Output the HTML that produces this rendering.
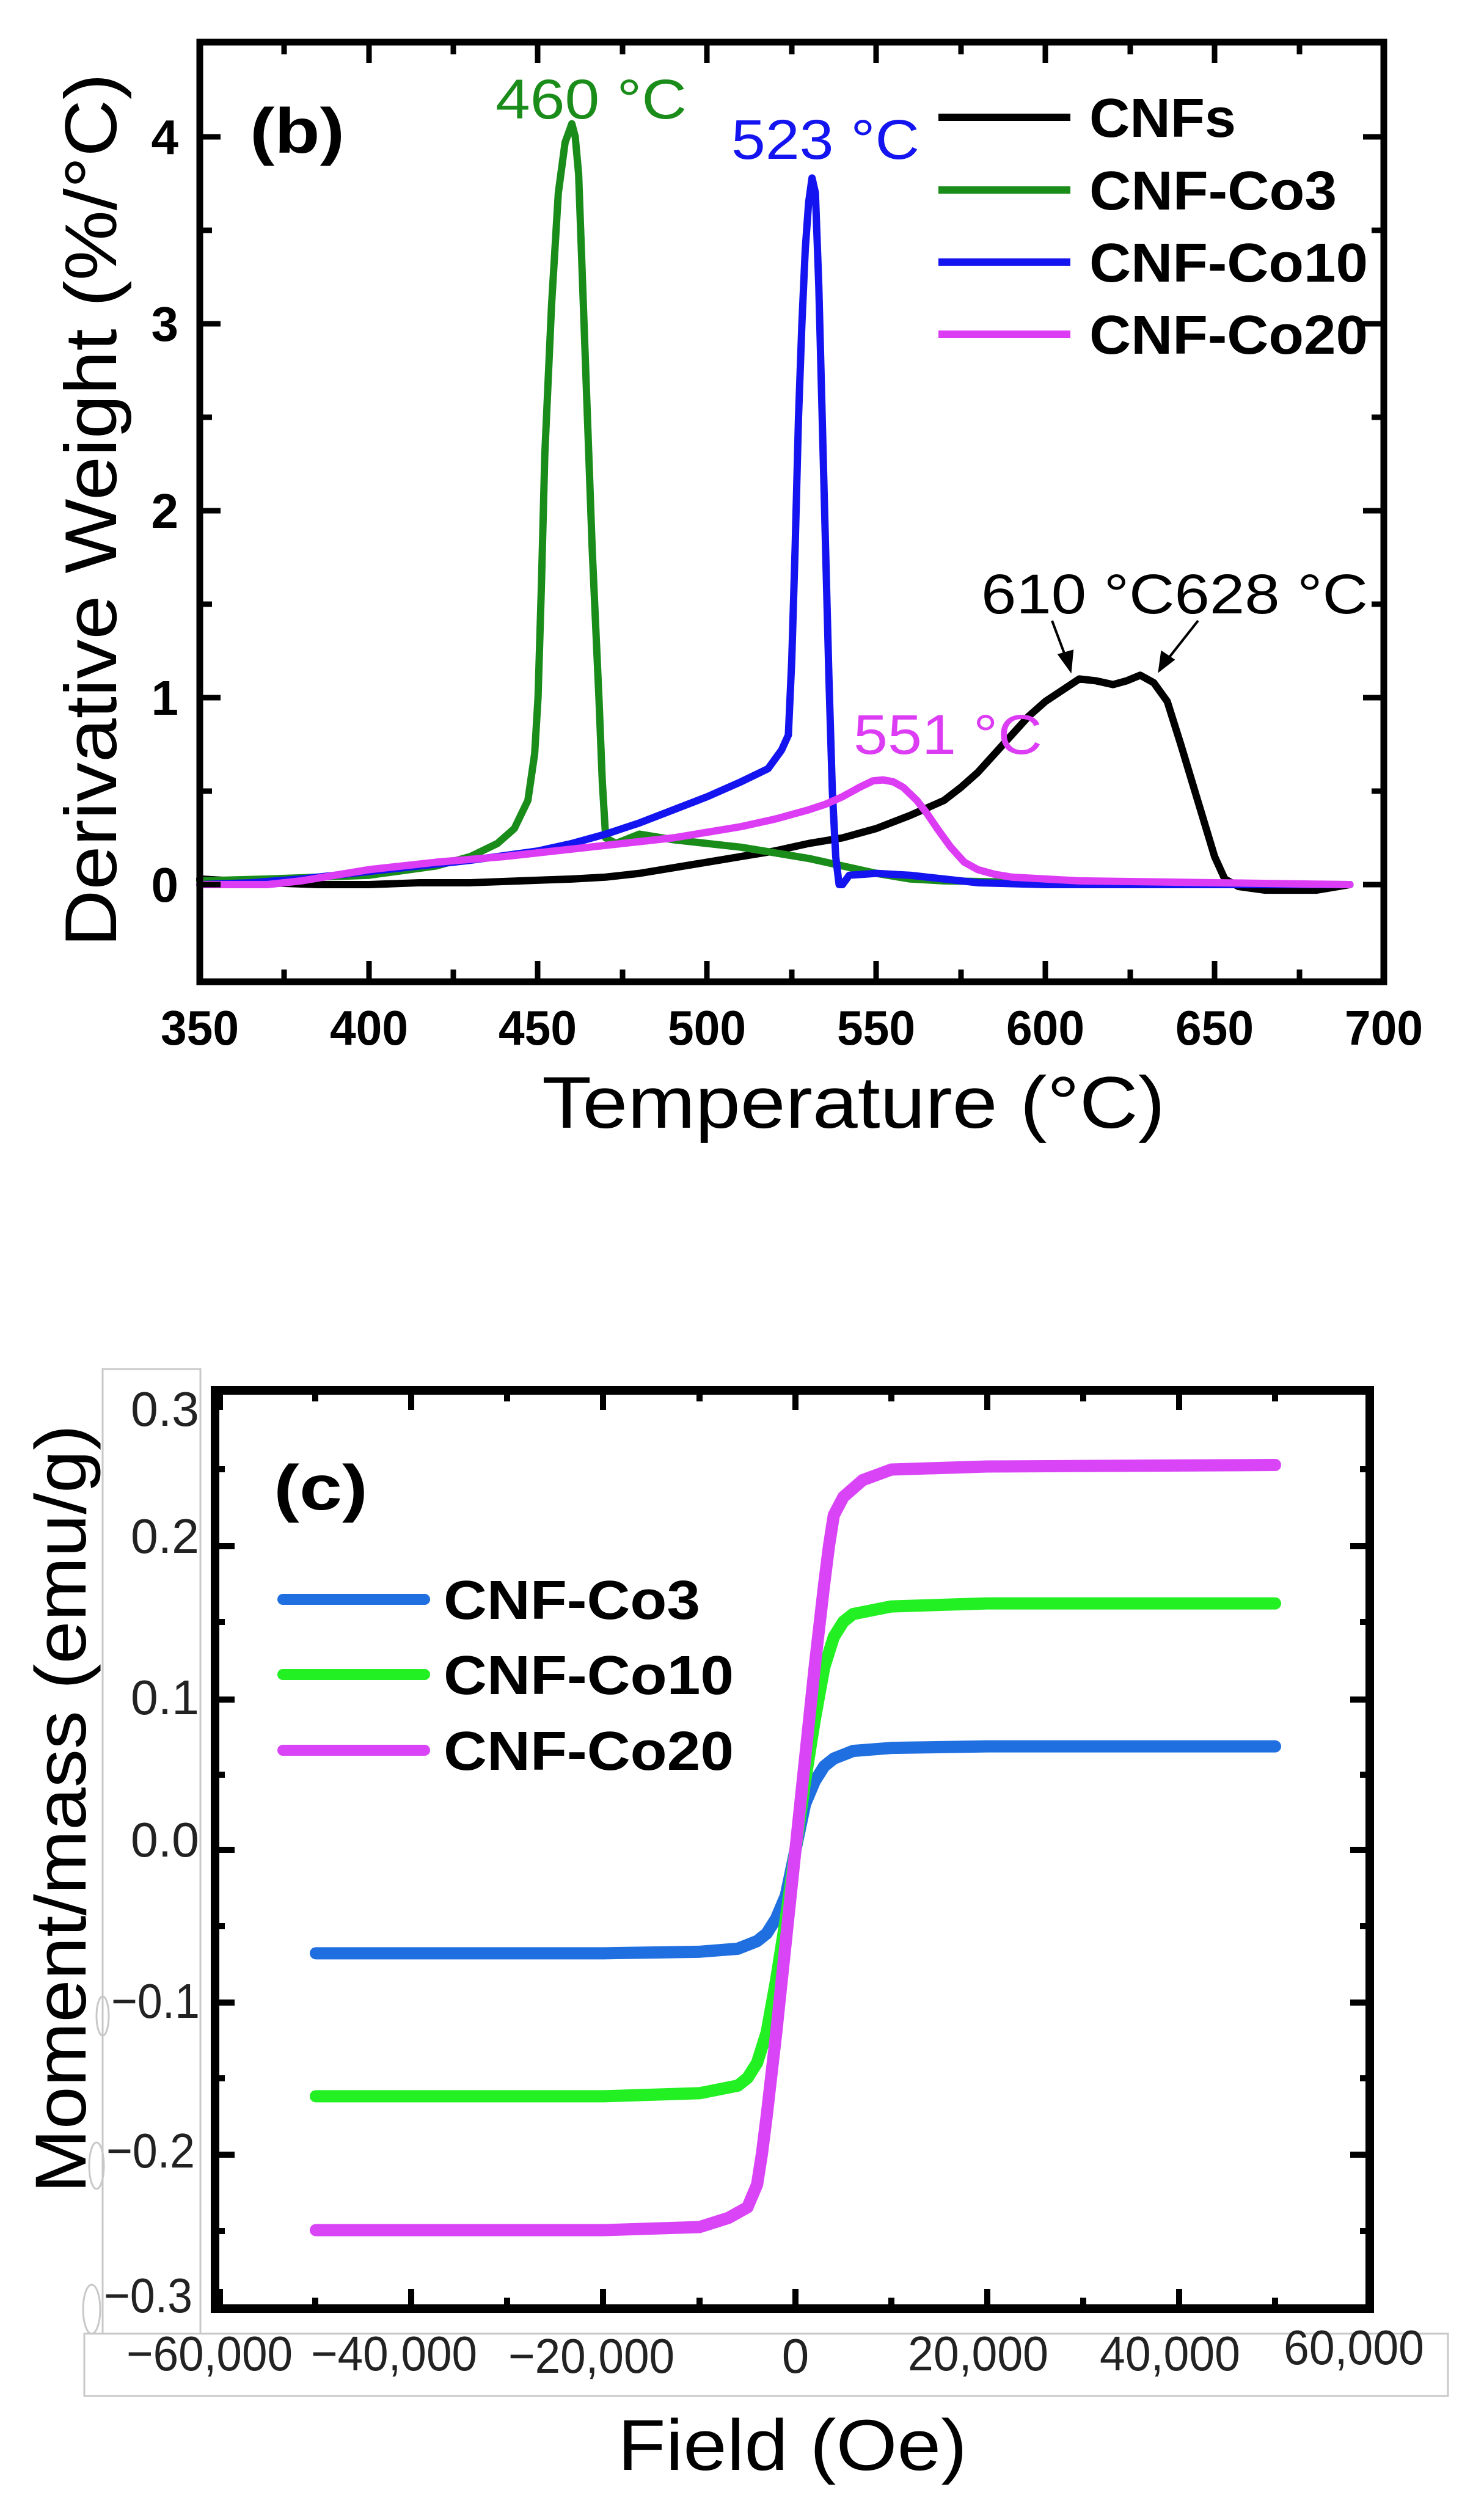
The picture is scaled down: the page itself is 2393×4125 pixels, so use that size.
<!DOCTYPE html>
<html><head><meta charset="utf-8"><style>
html,body{margin:0;padding:0;background:#fff;}
svg{display:block;}
text{font-family:"Liberation Sans",Arial,sans-serif;}
</style></head><body>
<svg width="2393" height="4125" viewBox="0 0 2393 4125" xmlns="http://www.w3.org/2000/svg">
<rect width="2393" height="4125" fill="#fff"/>

<!-- ============ Panel (b) ============ -->
<g fill="none" stroke-linejoin="round" stroke-linecap="round" transform="matrix(5.537 0 0 -306 -1611 1448)">
  <polyline vector-effect="non-scaling-stroke" stroke="#000" stroke-width="12" points="350,0.03 360,0.02 370,0.01 385,0.0 400,0.0 415,0.01 430,0.01 445,0.02 460,0.03 470,0.04 480,0.06 490,0.09 500,0.12 510,0.15 520,0.18 530,0.22 540,0.25 550,0.3 560,0.37 570,0.45 575,0.52 580,0.6 585,0.7 590,0.8 595,0.9 600,0.98 605,1.04 610,1.1 615,1.09 620,1.07 624,1.09 628,1.12 632,1.08 636,0.98 640,0.75 645,0.45 650,0.15 653,0.03 657,-0.01 665,-0.03 680,-0.03 690,0.0"/>
  <polyline vector-effect="non-scaling-stroke" stroke="#1a8c1a" stroke-width="12" points="350,0.02 370,0.03 400,0.05 420,0.1 430,0.15 438,0.22 443,0.3 447,0.45 449,0.7 450,1.0 451,1.6 452,2.3 454,3.1 456,3.7 458,3.97 460,4.07 461,4.0 462,3.8 463,3.3 464,2.8 466,1.8 468,1.0 469,0.55 470,0.25 473,0.22 480,0.27 490,0.24 500,0.22 510,0.2 520,0.17 530,0.14 540,0.1 550,0.06 560,0.03 570,0.02 600,0.01 690,0.0"/>
  <polyline vector-effect="non-scaling-stroke" stroke="#1414f0" stroke-width="12" points="350,0.0 365,0.01 380,0.03 400,0.07 415,0.1 430,0.13 450,0.18 460,0.22 470,0.27 480,0.33 490,0.4 500,0.47 510,0.55 518,0.62 522,0.72 524,0.8 525,1.2 526,1.8 527,2.5 528,3.0 529,3.4 530,3.65 531,3.78 532,3.7 533,3.2 534,2.5 535,1.8 536,1.1 537,0.5 538,0.15 539,0.0 540,0.0 542,0.05 550,0.06 560,0.05 570,0.03 580,0.01 600,0.0 690,0.0"/>
  <polyline vector-effect="non-scaling-stroke" stroke="#dd3cf5" stroke-width="12" points="350,0.0 360,0.0 370,0.0 380,0.02 390,0.05 400,0.08 420,0.12 440,0.15 450,0.17 465,0.2 480,0.23 490,0.25 500,0.28 510,0.31 520,0.35 530,0.4 535,0.43 540,0.47 545,0.52 549,0.555 552,0.56 555,0.55 558,0.52 562,0.45 565,0.38 568,0.3 572,0.2 576,0.12 580,0.08 585,0.055 590,0.04 600,0.03 610,0.02 630,0.015 650,0.01 690,0.0"/>
</g>
<rect x="327" y="69" width="1938" height="1538" fill="none" stroke="#000" stroke-width="11"/>
<g stroke="#000" stroke-width="9">
  <path d="M327,1607v-34M604,1607v-34M880,1607v-34M1157,1607v-34M1434,1607v-34M1711,1607v-34M1988,1607v-34M2265,1607v-34
           M327,69v34M604,69v34M880,69v34M1157,69v34M1434,69v34M1711,69v34M1988,69v34M2265,69v34"/>
  <path d="M465,1607v-20M742,1607v-20M1019,1607v-20M1296,1607v-20M1573,1607v-20M1850,1607v-20M2127,1607v-20
           M465,69v20M742,69v20M1019,69v20M1296,69v20M1573,69v20M1850,69v20M2127,69v20"/>
  <path d="M327,1448h34M327,1142h34M327,836h34M327,530h34M327,224h34
           M2265,1448h-34M2265,1142h-34M2265,836h-34M2265,530h-34M2265,224h-34"/>
  <path d="M327,1295h20M327,989h20M327,683h20M327,377h20
           M2265,1295h-20M2265,989h-20M2265,683h-20M2265,377h-20"/>
</g>
<g font-weight="bold" font-size="80" text-anchor="middle" fill="#000">
  <text x="327" y="1710" textLength="128" lengthAdjust="spacingAndGlyphs">350</text>
  <text x="604" y="1710" textLength="128" lengthAdjust="spacingAndGlyphs">400</text>
  <text x="880" y="1710" textLength="128" lengthAdjust="spacingAndGlyphs">450</text>
  <text x="1157" y="1710" textLength="128" lengthAdjust="spacingAndGlyphs">500</text>
  <text x="1434" y="1710" textLength="128" lengthAdjust="spacingAndGlyphs">550</text>
  <text x="1711" y="1710" textLength="128" lengthAdjust="spacingAndGlyphs">600</text>
  <text x="1988" y="1710" textLength="128" lengthAdjust="spacingAndGlyphs">650</text>
  <text x="2265" y="1710" textLength="128" lengthAdjust="spacingAndGlyphs">700</text>
</g>
<g font-weight="bold" font-size="80" text-anchor="end" fill="#000">
  <text x="292" y="1476">0</text>
  <text x="292" y="1170">1</text>
  <text x="292" y="864">2</text>
  <text x="292" y="558">3</text>
  <text x="292" y="252">4</text>
</g>
<text x="1397" y="1846" font-size="120" text-anchor="middle" textLength="1020" lengthAdjust="spacingAndGlyphs">Temperature (°C)</text>
<text transform="translate(190,835) rotate(-90)" font-size="120" text-anchor="middle" textLength="1430" lengthAdjust="spacingAndGlyphs">Derivative Weight (%/°C)</text>
<text x="409" y="250" font-size="104" font-weight="bold" textLength="155" lengthAdjust="spacingAndGlyphs">(b)</text>
<g stroke-width="12">
  <line x1="1536" y1="192" x2="1752" y2="192" stroke="#000"/>
  <line x1="1536" y1="311" x2="1752" y2="311" stroke="#1a8c1a"/>
  <line x1="1536" y1="429" x2="1752" y2="429" stroke="#1414f0"/>
  <line x1="1536" y1="547" x2="1752" y2="547" stroke="#dd3cf5"/>
</g>
<g font-weight="bold" font-size="90" fill="#000">
  <text x="1783" y="224" textLength="240" lengthAdjust="spacingAndGlyphs">CNFs</text>
  <text x="1783" y="343" textLength="405" lengthAdjust="spacingAndGlyphs">CNF-Co3</text>
  <text x="1783" y="461" textLength="456" lengthAdjust="spacingAndGlyphs">CNF-Co10</text>
  <text x="1783" y="579" textLength="456" lengthAdjust="spacingAndGlyphs">CNF-Co20</text>
</g>
<g font-size="92">
  <text x="811" y="194" fill="#1a8c1a" textLength="313" lengthAdjust="spacingAndGlyphs">460 °C</text>
  <text x="1197" y="260" fill="#1414f0" textLength="308" lengthAdjust="spacingAndGlyphs">523 °C</text>
  <text x="1397" y="1234" fill="#dd3cf5" textLength="309" lengthAdjust="spacingAndGlyphs">551 °C</text>
  <text x="1606" y="1004" fill="#000" textLength="633" lengthAdjust="spacingAndGlyphs">610 °C628 °C</text>
</g>
<g stroke="#000" stroke-width="4" fill="#000">
  <line x1="1722" y1="1016" x2="1746" y2="1080"/>
  <polygon points="1752,1097 1734,1072 1755,1066"/>
  <line x1="1961" y1="1016" x2="1909" y2="1082"/>
  <polygon points="1898,1097 1902,1068 1920,1080"/>
</g>

<!-- ============ Panel (c) ============ -->
<rect x="168" y="2241" width="160" height="1579" fill="#fff" stroke="#c8c8c8" stroke-width="3"/>
<rect x="138" y="3820" width="2232" height="102" fill="#fff" stroke="#c8c8c8" stroke-width="3"/>
<g fill="none" stroke="#c8c8c8" stroke-width="3">
  <ellipse cx="168" cy="3300" rx="10" ry="32"/>
  <ellipse cx="158" cy="3545" rx="12" ry="38"/>
  <ellipse cx="150" cy="3780" rx="14" ry="40"/>
</g>
<g fill="none" stroke-linejoin="round" stroke-linecap="round" transform="matrix(0.0157 0 0 -2490 1302 3028)">
  <polyline vector-effect="non-scaling-stroke" stroke="#1f6fe0" stroke-width="20" points="-50000,-0.068 -20000,-0.068 -10000,-0.067 -6000,-0.065 -4000,-0.06 -3000,-0.055 -2000,-0.045 -1000,-0.03 0,0.0 1000,0.03 2000,0.045 3000,0.055 4000,0.06 6000,0.065 10000,0.067 20000,0.068 50000,0.068"/>
  <polyline vector-effect="non-scaling-stroke" stroke="#22f022" stroke-width="20" points="-50000,-0.162 -20000,-0.162 -10000,-0.16 -6000,-0.155 -5000,-0.15 -4000,-0.14 -3000,-0.12 -2000,-0.085 -1000,-0.045 0,0 1000,0.045 2000,0.085 3000,0.12 4000,0.14 5000,0.15 6000,0.155 10000,0.16 20000,0.162 50000,0.162"/>
  <polyline vector-effect="non-scaling-stroke" stroke="#d944f7" stroke-width="20" points="-50000,-0.25 -20000,-0.25 -10000,-0.248 -7000,-0.242 -5000,-0.235 -4000,-0.22 -3500,-0.2 -3000,-0.175 -2000,-0.12 -1000,-0.06 0,0 1000,0.06 2000,0.12 3000,0.175 3500,0.2 4000,0.22 5000,0.232 7000,0.243 10000,0.25 20000,0.252 50000,0.253"/>
</g>
<rect x="352" y="2276" width="1890" height="1503" fill="none" stroke="#000" stroke-width="14"/>
<g stroke="#000" stroke-width="10">
  <path d="M360,3779v-32M673,3779v-32M987,3779v-32M1302,3779v-32M1616,3779v-32M1930,3779v-32M2242,3779v-32
           M360,2276v32M673,2276v32M987,2276v32M1302,2276v32M1616,2276v32M1930,2276v32"/>
  <path d="M516,3779v-18M830,3779v-18M1145,3779v-18M1459,3779v-18M1773,3779v-18M2087,3779v-18
           M516,2276v18M830,2276v18M1145,2276v18M1459,2276v18M1773,2276v18M2087,2276v18"/>
  <path d="M352,2531h32M352,2782h32M352,3028h32M352,3278h32M352,3527h32
           M2242,2531h-32M2242,2782h-32M2242,3028h-32M2242,3278h-32M2242,3527h-32"/>
  <path d="M352,2405h16M352,2655h16M352,2905h16M352,3153h16M352,3402h16M352,3652h16
           M2242,2405h-16M2242,2655h-16M2242,2905h-16M2242,3153h-16M2242,3402h-16M2242,3652h-16"/>
</g>
<g font-size="80" fill="#222">
  <text x="214" y="2334" textLength="112" lengthAdjust="spacingAndGlyphs">0.3</text>
  <text x="214" y="2542" textLength="112" lengthAdjust="spacingAndGlyphs">0.2</text>
  <text x="214" y="2806" textLength="112" lengthAdjust="spacingAndGlyphs">0.1</text>
  <text x="214" y="3039" textLength="112" lengthAdjust="spacingAndGlyphs">0.0</text>
  <text x="182" y="3303" textLength="145" lengthAdjust="spacingAndGlyphs">−0.1</text>
  <text x="174" y="3548" textLength="145" lengthAdjust="spacingAndGlyphs">−0.2</text>
  <text x="170" y="3785" textLength="145" lengthAdjust="spacingAndGlyphs">−0.3</text>
</g>
<g font-size="80" fill="#222" text-anchor="middle">
  <text x="343" y="3880" textLength="272" lengthAdjust="spacingAndGlyphs">−60,000</text>
  <text x="645" y="3880" textLength="272" lengthAdjust="spacingAndGlyphs">−40,000</text>
  <text x="968" y="3884" textLength="272" lengthAdjust="spacingAndGlyphs">−20,000</text>
  <text x="1302" y="3884">0</text>
  <text x="1601" y="3880" textLength="230" lengthAdjust="spacingAndGlyphs">20,000</text>
  <text x="1915" y="3880" textLength="230" lengthAdjust="spacingAndGlyphs">40,000</text>
  <text x="2216" y="3870" textLength="230" lengthAdjust="spacingAndGlyphs">60,000</text>
</g>
<text x="1297" y="4043" font-size="118" text-anchor="middle" textLength="572" lengthAdjust="spacingAndGlyphs">Field (Oe)</text>
<text transform="translate(140,2961) rotate(-90)" font-size="118" text-anchor="middle" textLength="1258" lengthAdjust="spacingAndGlyphs">Moment/mass (emu/g)</text>
<text x="448" y="2471" font-size="104" font-weight="bold" textLength="154" lengthAdjust="spacingAndGlyphs">(c)</text>
<g stroke-width="18" stroke-linecap="round">
  <line x1="463" y1="2618" x2="695" y2="2618" stroke="#1f6fe0"/>
  <line x1="463" y1="2741" x2="695" y2="2741" stroke="#22f022"/>
  <line x1="463" y1="2865" x2="695" y2="2865" stroke="#d944f7"/>
</g>
<g font-weight="bold" font-size="90" fill="#000">
  <text x="726" y="2650" textLength="420" lengthAdjust="spacingAndGlyphs">CNF-Co3</text>
  <text x="726" y="2773" textLength="475" lengthAdjust="spacingAndGlyphs">CNF-Co10</text>
  <text x="726" y="2897" textLength="475" lengthAdjust="spacingAndGlyphs">CNF-Co20</text>
</g>
</svg>
</body></html>
